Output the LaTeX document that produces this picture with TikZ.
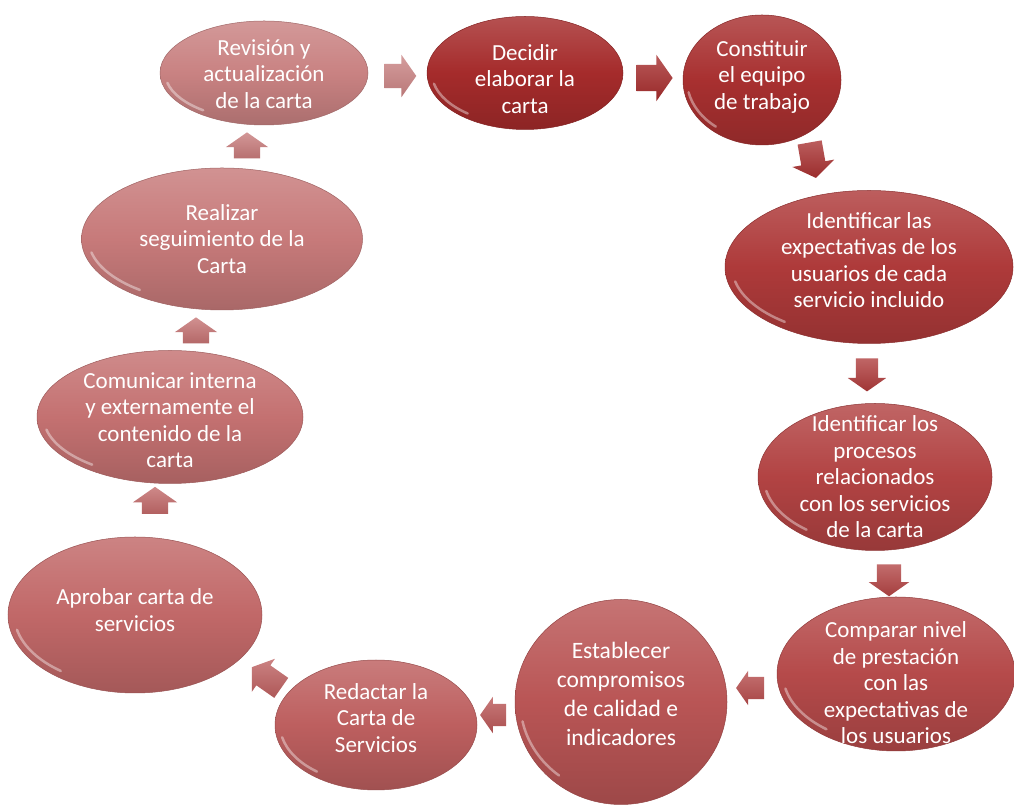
\documentclass[tikz,border=0pt]{standalone}
\usepackage{fontspec}
\setmainfont{Carlito}
\usetikzlibrary{shapes.geometric,shapes.arrows}
\definecolor{c1}{HTML}{C98282}
\definecolor{c2}{HTML}{A52B2B}
\definecolor{c3}{HTML}{A83030}
\definecolor{c4}{HTML}{AE3A3A}
\definecolor{c5}{HTML}{B24343}
\definecolor{c6}{HTML}{B54A4A}
\definecolor{c7}{HTML}{B95555}
\definecolor{c8}{HTML}{BD5F5F}
\definecolor{c9}{HTML}{C16868}
\definecolor{c10}{HTML}{C47171}
\definecolor{c11}{HTML}{C77A7A}
\tikzset{
  ell/.style={ellipse, inner sep=0pt, draw=#1!80!black, line width=0.5pt,
    top color=#1!82!white, bottom color=#1!85!black, middle color=#1},
  txt/.style={text=white, align=center, font=\fontsize{23}{26.5}\selectfont},
  gloss/.style={white, line width=2.5pt, opacity=0.4, line cap=round},
  blk/.style={single arrow, draw=none, inner xsep=0pt, single arrow tip angle=110,
    top color=#1!78!white, bottom color=#1!92!black},
}
% name, x, y, w, h, colour, text y-shift, text
\newcommand\ellnode[8]{%
  \node[ell=#6, minimum width=#4pt, minimum height=#5pt] (#1) at (#2,#3) {};
  \draw[gloss] (#1.center) ++(192:{0.475*#4} and {0.455*#5})
    arc[start angle=192, end angle=232, x radius={0.475*#4}, y radius={0.455*#5}];
  \node[txt] at ([yshift=#7pt]#1.center) {#8};
}
\begin{document}
\begin{tikzpicture}[x=1pt,y=1pt]
\useasboundingbox[fill=white] (0,0) rectangle (1014,805);

\ellnode{n1}{264}{732}{208}{104}{c1}{-1}{Revisión y\\actualización\\de la carta}
\ellnode{n2}{525}{732}{196}{113}{c2}{-6}{Decidir\\elaborar la\\carta}
\ellnode{n3}{762}{725}{158}{130}{c3}{3}{Constituir\\el equipo\\de trabajo}
\ellnode{n4}{869}{538}{288}{153}{c4}{7}{Identificar las\\expectativas de los\\usuarios de cada\\servicio incluido}
\ellnode{n5}{875}{328}{234}{147}{c5}{0}{Identificar los\\procesos\\relacionados\\con los servicios\\de la carta}
\ellnode{n6}{896}{131}{238}{154}{c6}{-9}{Comparar nivel\\de prestación\\con las\\expectativas de\\los usuarios}
\node[ell=c7, minimum width=212pt, minimum height=205pt] (n7) at (621,103) {};
\draw[gloss] (n7.center) ++(192:{0.475*212} and {0.455*205})
  arc[start angle=192, end angle=232, x radius={0.475*212}, y radius={0.455*205}];
\node[txt, font=\fontsize{23.5}{29}\selectfont] at ([yshift=8pt]n7.center) {Establecer\\compromisos\\de calidad e\\indicadores};
\ellnode{n8}{376}{80}{202}{130}{c8}{7}{Redactar la\\Carta de\\Servicios}
\ellnode{n9}{135}{190}{254}{156}{c9}{5}{Aprobar carta de\\servicios}
\ellnode{n10}{170}{388}{266}{133}{c10}{-3}{Comunicar interna\\y externamente el\\contenido de la\\carta}
\ellnode{n11}{222}{566}{281}{142}{c11}{0}{Realizar\\seguimiento de la\\Carta}

% block arrows between the steps
\node[blk=c1, minimum height=32pt, minimum width=42pt, inner ysep=12pt, single arrow head extend=9pt] (a1) at (396,729) {};
\node[blk=c2, minimum height=36pt, minimum width=46pt, inner ysep=13pt, single arrow head extend=10pt] (a2) at (650,727) {};
\node[blk=c3, minimum height=36pt, minimum width=42pt, inner ysep=12pt, single arrow head extend=9pt, rotate=-80] (a3) at (812,649) {};
\node[blk=c4, minimum height=33pt, minimum width=38pt, inner ysep=11pt, single arrow head extend=8pt, rotate=-90] (a4) at (867,434) {};
\node[blk=c5, minimum height=32pt, minimum width=40pt, inner ysep=12pt, single arrow head extend=8pt, rotate=-90] (a5) at (889,229) {};
\node[blk=c6, minimum height=28pt, minimum width=34pt, inner ysep=11pt, single arrow head extend=6pt, rotate=180] (a6) at (754,117) {};
\node[blk=c7, minimum height=26pt, minimum width=34pt, inner ysep=11pt, single arrow head extend=7pt, rotate=180] (a7) at (497,90) {};
\node[blk=c8, minimum height=36pt, minimum width=40pt, inner ysep=12pt, single arrow head extend=8pt, rotate=145] (a8) at (270,125) {};
\node[blk=c9, minimum height=27pt, minimum width=44pt, inner ysep=13pt, single arrow head extend=9pt, rotate=90] (a9) at (155,300) {};
\node[blk=c10, minimum height=26pt, minimum width=42pt, inner ysep=13pt, single arrow head extend=8pt, rotate=90] (a10) at (196,470) {};
\node[blk=c11, minimum height=26pt, minimum width=42pt, inner ysep=13pt, single arrow head extend=8pt, rotate=90] (a11) at (247,655) {};
\end{tikzpicture}
\end{document}
